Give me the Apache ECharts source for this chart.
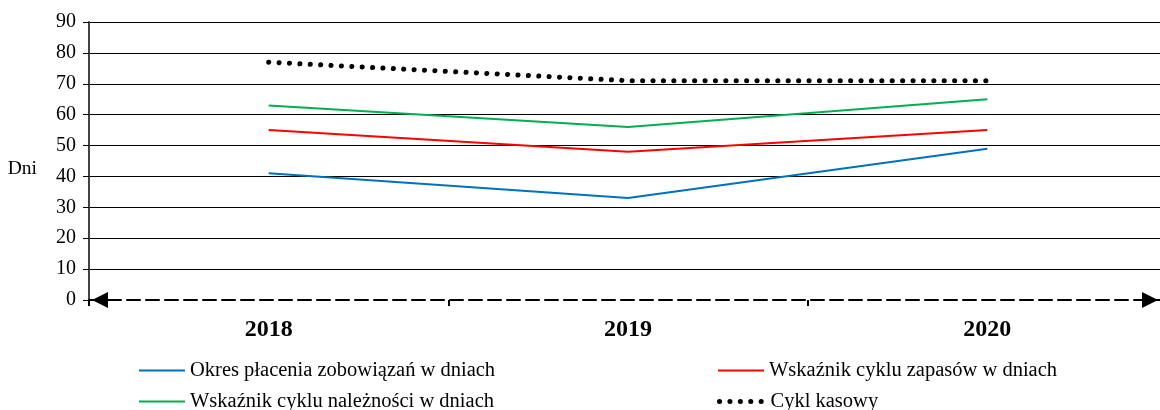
<!DOCTYPE html>
<html>
<head>
<meta charset="utf-8">
<script src="https://cdn.jsdelivr.net/npm/echarts@6/dist/echarts.min.js"></script>
<style>
  html, body { margin: 0; padding: 0; background: #fff; }
  #chart { width: 1160px; height: 410px; }
</style>
</head>
<body>
<div id="chart"></div>
<script>
// lata na osi X
const years = ['2018', '2019', '2020']
// wartości serii (dni)
const okresPlacenia = [41, 33, 49]
const cyklZapasow = [55, 48, 55]
const cyklNaleznosci = [63, 56, 65]
const cyklKasowy = [77, 71, 71]

const serif = 'Liberation Serif'

const chart = echarts.init(document.getElementById('chart'))

// jedna legenda na pozycję, żeby ułożyć je w dwie kolumny
const legendItem = (name, left, top, lineStyle) => {
  const item = {
    left: left,
    top: top,
    padding: 0,
    itemWidth: 46,
    itemHeight: 14,
    itemGap: 6,
    itemStyle: { opacity: 0 },
    textStyle: { fontFamily: serif, fontSize: 20.5, color: '#000' },
    data: [name]
  }
  if (lineStyle) item.lineStyle = lineStyle
  return item
}

const option = {
  animation: false,
  textStyle: { fontFamily: serif, color: '#000' },
  grid: {
    left: 89,
    width: 1078,
    top: 22,
    bottom: 110,
    outerBoundsMode: 'none'
  },
  legend: [
    legendItem('Okres płacenia zobowiązań w dniach', 138, 360),
    legendItem('Wskaźnik cyklu należności w dniach', 138, 391),
    legendItem('Wskaźnik cyklu zapasów w dniach', 717, 360),
    legendItem('Cykl kasowy', 717, 391, { width: 5, type: [0.1, 10.3], cap: 'round' })
  ],
  xAxis: {
    type: 'category',
    data: years,
    boundaryGap: true,
    axisLine: {
      show: true,
      symbol: ['triangle', 'triangle'],
      symbolSize: [16, 16],
      symbolOffset: [11, -17],
      lineStyle: { color: '#000', width: 2, type: [13, 6] }
    },
    axisTick: {
      show: true,
      length: 6,
      lineStyle: { color: '#000', width: 2 }
    },
    axisLabel: {
      margin: 18,
      fontFamily: serif,
      fontSize: 24,
      fontWeight: 'bold',
      color: '#000'
    },
    splitLine: { show: false }
  },
  yAxis: {
    type: 'value',
    min: 0,
    max: 90,
    interval: 10,
    name: 'Dni',
    nameLocation: 'middle',
    nameRotate: 0,
    nameGap: 52,
    nameTextStyle: { fontFamily: serif, fontSize: 19.5, color: '#000', verticalAlign: 'top', lineHeight: 16 },
    axisLine: {
      show: true,
      lineStyle: { color: '#444', width: 2 }
    },
    axisTick: {
      show: true,
      length: 6,
      lineStyle: { color: '#000', width: 1 }
    },
    axisLabel: {
      margin: 13,
      fontFamily: serif,
      fontSize: 20,
      color: '#000'
    },
    splitLine: {
      show: true,
      showMinLine: false,
      lineStyle: { color: '#000', width: 1 }
    }
  },
  series: [
    {
      name: 'Okres płacenia zobowiązań w dniach',
      type: 'line',
      data: okresPlacenia,
      symbol: 'none',
      color: '#0070C0',
      lineStyle: { color: '#0070C0', width: 2 }
    },
    {
      name: 'Wskaźnik cyklu zapasów w dniach',
      type: 'line',
      data: cyklZapasow,
      symbol: 'none',
      color: '#FF0000',
      lineStyle: { color: '#FF0000', width: 2 }
    },
    {
      name: 'Wskaźnik cyklu należności w dniach',
      type: 'line',
      data: cyklNaleznosci,
      symbol: 'none',
      color: '#00B050',
      lineStyle: { color: '#00B050', width: 2 }
    },
    {
      name: 'Cykl kasowy',
      type: 'line',
      data: cyklKasowy,
      symbol: 'none',
      color: '#000',
      lineStyle: { color: '#000', width: 5, type: [0.1, 10.3], cap: 'round' }
    }
  ]
}

chart.setOption(option)
window.addEventListener('resize', () => {
  chart.resize()
})
</script>
</body>
</html>
